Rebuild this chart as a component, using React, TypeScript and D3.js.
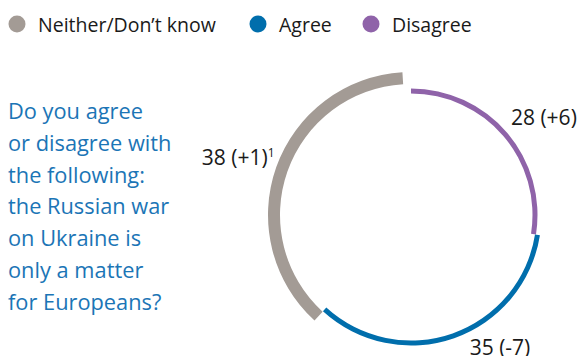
import React from "react";
import * as d3 from "d3";

const categories = ["Disagree", "Agree", "Neither/Don't know"];
const values = [28, 35, 38];
const changes = ["+6", "-7", "+1"];
const footnotes = ["", "", "1"];
const legendOrder = ["Neither/Don't know", "Agree", "Disagree"];
const questionLines = [
  "Do you agree",
  "or disagree with",
  "the following:",
  "the Russian war",
  "on Ukraine is",
  "only a matter",
  "for Europeans?",
];

const W = 579;
const H = 356;
const colors: Record<string, string> = {
  "Disagree": "#8f63a9",
  "Agree": "#006eac",
  "Neither/Don't know": "#a39b95",
};
const ringStyle: Record<string, { r: number; w: number }> = {
  "Disagree": { r: 124, w: 5 },
  "Agree": { r: 128, w: 5 },
  "Neither/Don't know": { r: 137, w: 12 },
};
const labelStyle: Record<string, { anchor: string; dx: number; dy: number }> = {
  "Disagree": { anchor: "start", dx: -14, dy: 8 },
  "Agree": { anchor: "start", dx: 9, dy: -2 },
  "Neither/Don't know": { anchor: "end", dx: 5, dy: 0 },
};
const legendX = [38, 279, 392];

export default function App() {
  const cx = 411;
  const cy = 215;
  const pie = d3
    .pie<number>()
    .sort(null)
    .startAngle(0)
    .endAngle(2 * Math.PI - 0.06)
    .padAngle(0.004);
  const arcs = pie(values);
  const labelR = 150;
  const labelArc = d3.arc<any>().innerRadius(labelR).outerRadius(labelR);
  const font = "'Open Sans', sans-serif";

  return (
    <svg
      width={W}
      height={H}
      style={{ position: "absolute", left: 0, top: 0, background: "#fff" }}
    >
      {/* legend */}
      {legendOrder.map((c, i) => (
        <g key={c}>
          <circle cx={legendX[i] - 21} cy={24} r={8.5} fill={colors[c]} />
          <text
            x={legendX[i]}
            y={32}
            fontFamily={font}
            fontSize={19.5}
            fill="#1a1a1a"
          >
            {c.replace("'", "\u2019")}
          </text>
        </g>
      ))}

      {/* question */}
      <text fontFamily={font} fontSize={21.8} fill="#1b75b6">
        {questionLines.map((l, i) => (
          <tspan key={i} x={8} y={119 + i * 31.8}>
            {l}
          </tspan>
        ))}
      </text>

      {/* arcs */}
      <g transform={`translate(${cx},${cy})`}>
        {arcs.map((a, i) => {
          const c = categories[i];
          const s = ringStyle[c];
          const path = d3
            .arc<any>()
            .innerRadius(s.r - s.w / 2)
            .outerRadius(s.r + s.w / 2)({ ...a, padAngle: 0 });
          return <path key={c} d={path || ""} fill={colors[c]} />;
        })}
        {arcs.map((a, i) => {
          const c = categories[i];
          const [lx, ly] = labelArc.centroid(a as any);
          const ls = labelStyle[c];
          return (
            <text
              key={c + "l"}
              x={lx + ls.dx}
              y={ly + ls.dy}
              textAnchor={ls.anchor}
              fontFamily={font}
              fontSize={21}
              fill="#1a1a1a"
            >
              {`${values[i]} (${changes[i]})`}
              {footnotes[i] ? (
                <tspan fontSize={12} dy={-8}>
                  {footnotes[i]}
                </tspan>
              ) : null}
            </text>
          );
        })}
      </g>
    </svg>
  );
}
